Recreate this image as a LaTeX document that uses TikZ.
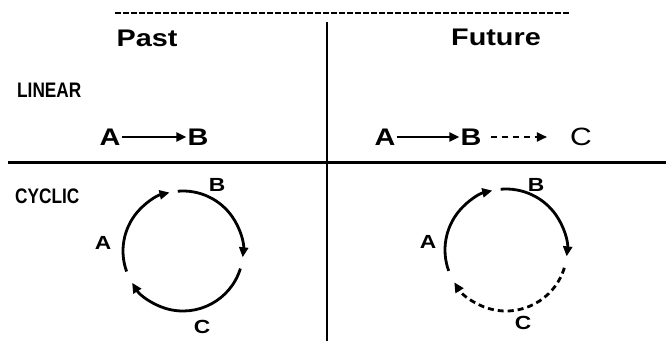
\documentclass[tikz,border=0pt]{standalone}
\usepackage{fontspec}
\setmainfont{Liberation Sans}
\usetikzlibrary{arrows.meta}

\newcommand{\hwide}[1]{\scalebox{1.2}[1]{#1}}
\newcommand{\hnarrow}[1]{\scalebox{0.82}[1]{#1}}

\tikzset{
  colhead/.style={font=\bfseries\fontsize{24}{28}\selectfont, inner sep=0pt},
  rowname/.style={font=\bfseries\fontsize{21}{24}\selectfont, anchor=west, inner sep=0pt},
  letter/.style={font=\bfseries\fontsize{24}{26}\selectfont, inner sep=1pt},
  cyclabel/.style={font=\bfseries\fontsize{19}{20}\selectfont, inner sep=0pt},
  tip/.style={-{Triangle[length=10pt,width=9pt]}},
  cycarc/.style={line width=2.8pt, tip},
}

\begin{document}
\begin{tikzpicture}[x=1pt,y=1pt]
\useasboundingbox (0,0) rectangle (666,341);

% frame lines
\draw[line width=2pt, dash pattern=on 6pt off 2pt] (115,328) -- (570,328);
\draw[line width=2.3pt] (327,319) -- (327,0);
\draw[line width=3pt] (8,179) -- (666,179);

% headings
\node[colhead] (past) at (147,303) {\hwide{Past}};
\node[colhead] (future) at (496,304) {\hwide{Future}};
\node[rowname] (linear) at (17,251) {\hnarrow{LINEAR}};
\node[rowname] (cyclic) at (15,145) {\hnarrow{CYCLIC}};

% linear, past
\node[letter] (pa) at (110,204) {\hwide{A}};
\node[letter] (pb) at (198,204) {\hwide{B}};
\draw[line width=2.2pt, tip] (pa.east) -- (pb.west);

% linear, future
\node[letter] (fa) at (385,204) {\hwide{A}};
\node[letter] (fb) at (471,204) {\hwide{B}};
\node[font=\fontsize{25}{28}\selectfont, inner sep=1pt] (fc) at (581,204) {\hwide{C}};
\draw[line width=2.2pt, tip] (fa.east) -- (fb.west);
\draw[line width=2.2pt, dash pattern=on 6pt off 5pt, tip, shorten <=8pt, shorten >=22pt] (fb.east) -- (fc.west);

% cyclic, past
\coordinate (pc) at (183,90);
\draw[cycarc] (pc) ++(200:60) arc[start angle=200, end angle=103, radius=60];
\draw[cycarc] (pc) ++(95:60) arc[start angle=95, end angle=-6, radius=60];
\draw[cycarc] (pc) ++(-17:60) arc[start angle=-17, end angle=-148, radius=60];
\node[cyclabel] (pcb) at (217,156) {\hwide{B}};
\node[cyclabel] (pca) at (103,98) {\hwide{A}};
\node[cyclabel] (pcc) at (202,14) {\hwide{C}};

% cyclic, future
\coordinate (fcc) at (506,91);
\draw[cycarc] (fcc) ++(200:61) arc[start angle=200, end angle=103, radius=61];
\draw[cycarc] (fcc) ++(95:61) arc[start angle=95, end angle=-6, radius=61];
\draw[cycarc, dash pattern=on 6pt off 4pt] (fcc) ++(-17:61) arc[start angle=-17, end angle=-148, radius=61];
\node[cyclabel] (fcb) at (536,156) {\hwide{B}};
\node[cyclabel] (fca) at (428,99) {\hwide{A}};
\node[cyclabel] (fcl) at (523,18) {\hwide{C}};
\end{tikzpicture}
\end{document}
